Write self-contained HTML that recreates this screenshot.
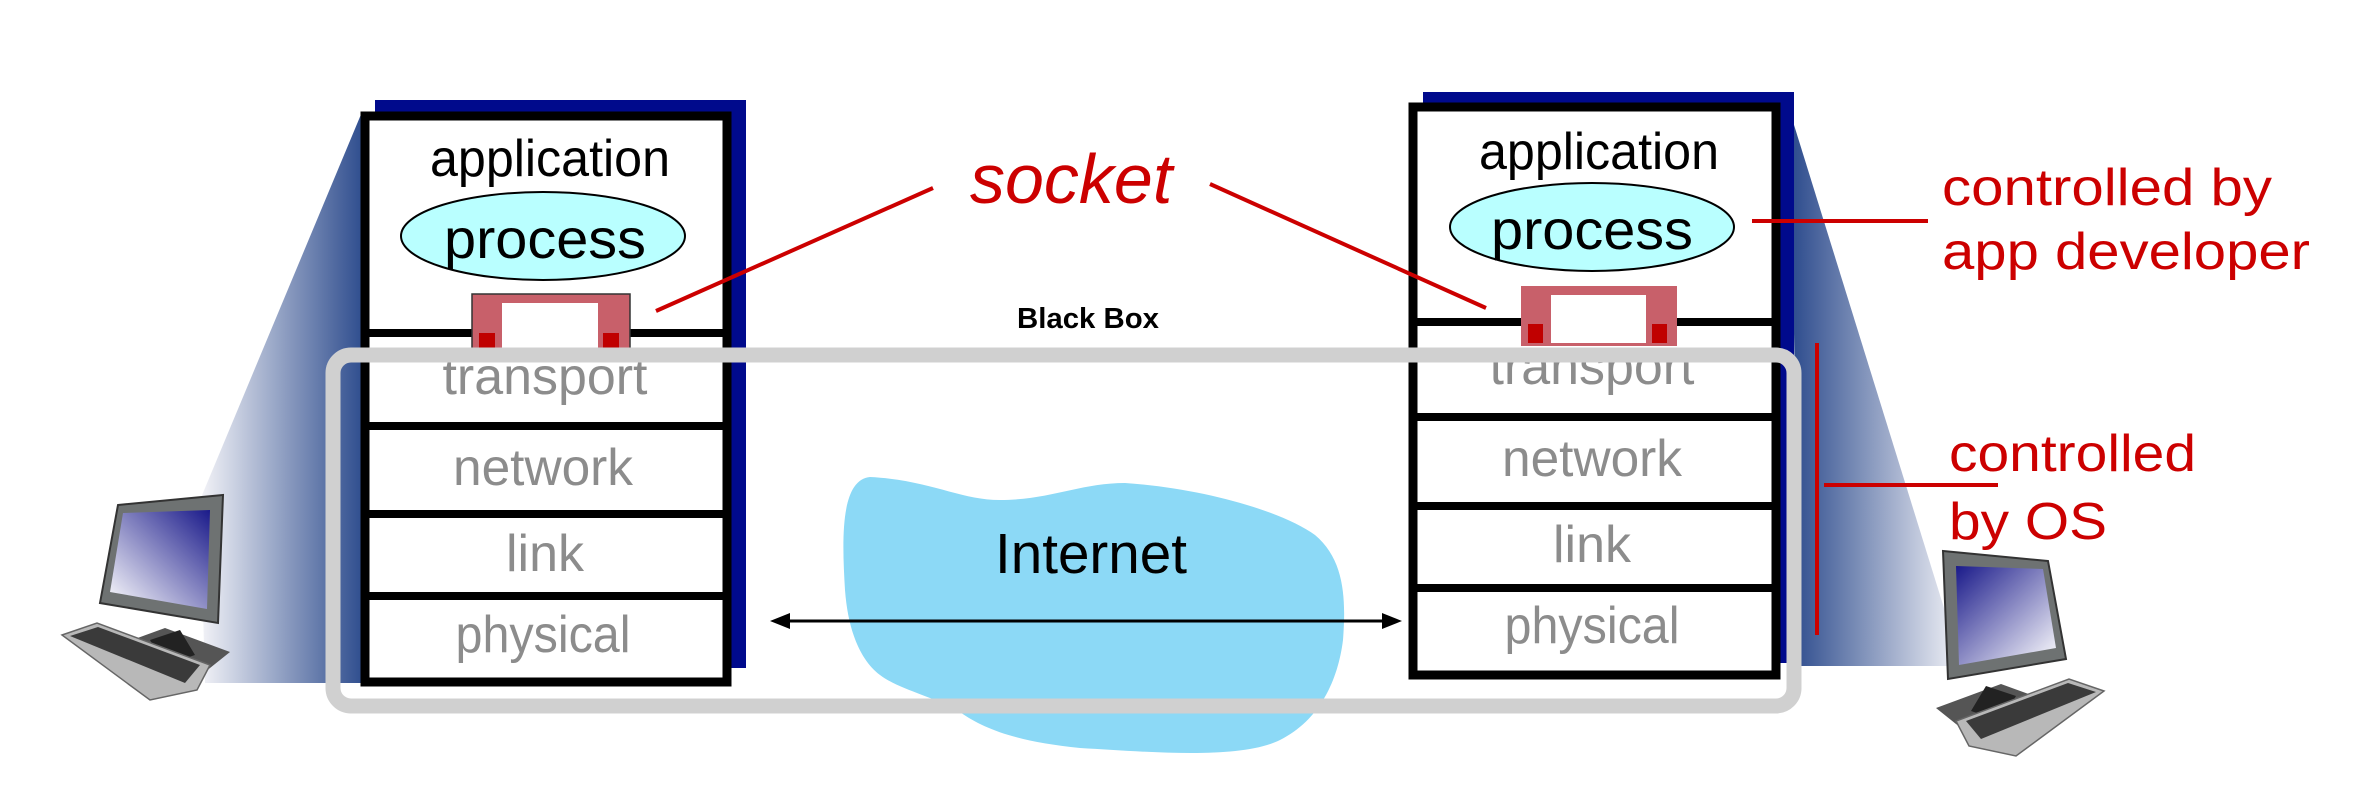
<!DOCTYPE html>
<html><head><meta charset="utf-8"><style>html,body{margin:0;padding:0;background:#fff}svg{display:block}</style></head>
<body>
<svg width="2368" height="806" viewBox="0 0 2368 806" xmlns="http://www.w3.org/2000/svg" font-family="Liberation Sans, sans-serif">
<defs>
<linearGradient id="wl" x1="0" y1="0" x2="1" y2="0">
<stop offset="0" stop-color="#f4f4f8"/><stop offset="1" stop-color="#2b4a8c"/></linearGradient>
<linearGradient id="wr" x1="1" y1="0" x2="0" y2="0">
<stop offset="0" stop-color="#f4f4f8"/><stop offset="1" stop-color="#2b4a8c"/></linearGradient>
<linearGradient id="scr" x1="1" y1="0" x2="0" y2="1">
<stop offset="0" stop-color="#1a1a8a"/><stop offset="1" stop-color="#ffffff"/></linearGradient>
<g id="pc">
<polygon points="110,648 165,628 230,652 205,672 150,668" fill="#555"/>
<polygon points="150,640 180,630 195,655 165,665" fill="#222"/>
<polygon points="118,505 223,495 218,623 100,603" fill="#6e7272" stroke="#333" stroke-width="2"/>
<polygon points="123,513 210,510 207,609 110,592" fill="url(#scr)"/>
<polygon points="62,635 97,623 210,665 197,690 150,700" fill="#b8b8b8" stroke="#666" stroke-width="1.5"/>
<polygon points="70,636 98,627 200,665 185,683" fill="#3a3a3a"/>
</g>
</defs>

<polygon points="362,112 200,500 205,683 366,683" fill="url(#wl)"/>
<polygon points="1790,112 1962,666 1800,666" fill="url(#wr)"/>

<use href="#pc"/>
<use href="#pc" transform="translate(2166,56) scale(-1,1)"/>

<path d="M870,477 C930,480 960,500 1000,500 C1050,500 1080,483 1125,483 C1200,488 1280,510 1315,535 C1345,560 1346,600 1343,640 C1338,680 1320,720 1280,740 C1240,760 1150,752 1080,748 C1020,742 985,730 960,712 C930,695 900,690 880,675 C860,660 848,630 845,590 C842,540 840,480 870,477 Z" fill="#8cd9f6"/>

<rect x="375" y="100" width="371" height="568" fill="#000a8c"/>
<rect x="365" y="116" width="362" height="566" fill="#fff" stroke="#000" stroke-width="9"/>
<g stroke="#000" stroke-width="8">
<line x1="365" y1="333" x2="727" y2="333"/><line x1="365" y1="426" x2="727" y2="426"/>
<line x1="365" y1="514" x2="727" y2="514"/><line x1="365" y1="596" x2="727" y2="596"/></g>
<text x="550" y="176" font-size="52" text-anchor="middle" textLength="240" lengthAdjust="spacingAndGlyphs">application</text>
<ellipse cx="543" cy="236" rx="142" ry="44" fill="#b9ffff" stroke="#000" stroke-width="2"/>
<text x="545" y="258" font-size="56" text-anchor="middle" textLength="202" lengthAdjust="spacingAndGlyphs">process</text>
<rect x="472" y="294" width="158" height="60" fill="#c8606a" stroke="#333" stroke-width="1.5"/>
<rect x="502" y="303" width="96" height="60" fill="#fff"/>
<rect x="479" y="333" width="16" height="20" fill="#c00000"/>
<rect x="603" y="333" width="16" height="20" fill="#c00000"/>
<g fill="#8c8c8c" font-size="52" text-anchor="middle">
<text x="545" y="394" textLength="205" lengthAdjust="spacingAndGlyphs">transport</text>
<text x="543" y="485" textLength="180" lengthAdjust="spacingAndGlyphs">network</text>
<text x="545" y="571" textLength="78" lengthAdjust="spacingAndGlyphs">link</text>
<text x="543" y="652" textLength="175" lengthAdjust="spacingAndGlyphs">physical</text></g>

<rect x="1423" y="92" width="371" height="571" fill="#000a8c"/>
<rect x="1413" y="107" width="363" height="568" fill="#fff" stroke="#000" stroke-width="9"/>
<g stroke="#000" stroke-width="8">
<line x1="1413" y1="322" x2="1776" y2="322"/><line x1="1413" y1="417" x2="1776" y2="417"/>
<line x1="1413" y1="506" x2="1776" y2="506"/><line x1="1413" y1="588" x2="1776" y2="588"/></g>
<text x="1599" y="169" font-size="52" text-anchor="middle" textLength="240" lengthAdjust="spacingAndGlyphs">application</text>
<ellipse cx="1592" cy="227" rx="142" ry="44" fill="#b9ffff" stroke="#000" stroke-width="2"/>
<text x="1592" y="249" font-size="56" text-anchor="middle" textLength="202" lengthAdjust="spacingAndGlyphs">process</text>
<rect x="1521" y="286" width="156" height="60" fill="#c8606a"/>
<rect x="1551" y="295" width="95" height="48" fill="#fff"/>
<rect x="1528" y="324" width="15" height="19" fill="#c00000"/>
<rect x="1652" y="324" width="15" height="19" fill="#c00000"/>
<g fill="#8c8c8c" font-size="52" text-anchor="middle">
<text x="1592" y="384" textLength="205" lengthAdjust="spacingAndGlyphs">transport</text>
<text x="1592" y="476" textLength="180" lengthAdjust="spacingAndGlyphs">network</text>
<text x="1592" y="562" textLength="78" lengthAdjust="spacingAndGlyphs">link</text>
<text x="1592" y="643" textLength="175" lengthAdjust="spacingAndGlyphs">physical</text></g>

<rect x="333" y="355" width="1461" height="351" rx="18" fill="none" stroke="#d0d0d0" stroke-width="15"/>
<text x="1088" y="328" font-size="29" font-weight="bold" text-anchor="middle" textLength="142" lengthAdjust="spacingAndGlyphs">Black Box</text>
<text x="1091" y="573" font-size="57" text-anchor="middle" textLength="192" lengthAdjust="spacingAndGlyphs">Internet</text>

<line x1="780" y1="621" x2="1392" y2="621" stroke="#000" stroke-width="3"/>
<polygon points="770,621 790,613 790,629" fill="#000"/>
<polygon points="1402,621 1382,613 1382,629" fill="#000"/>

<text x="970" y="203" font-size="70" font-style="italic" fill="#cc0000">socket</text>
<g stroke="#cc0000" stroke-width="4">
<line x1="656" y1="311" x2="933" y2="188"/>
<line x1="1210" y1="184" x2="1486" y2="308"/>
<line x1="1752" y1="221" x2="1928" y2="221"/>
<line x1="1817" y1="343" x2="1817" y2="635"/>
<line x1="1824" y1="485" x2="1998" y2="485"/></g>
<g fill="#cc0000" font-size="52">
<text x="1942" y="205" textLength="330" lengthAdjust="spacingAndGlyphs">controlled by</text>
<text x="1942" y="269" textLength="368" lengthAdjust="spacingAndGlyphs">app developer</text>
<text x="1949" y="471" textLength="247" lengthAdjust="spacingAndGlyphs">controlled</text>
<text x="1949" y="539" textLength="158" lengthAdjust="spacingAndGlyphs">by OS</text></g>
</svg>
</body></html>
